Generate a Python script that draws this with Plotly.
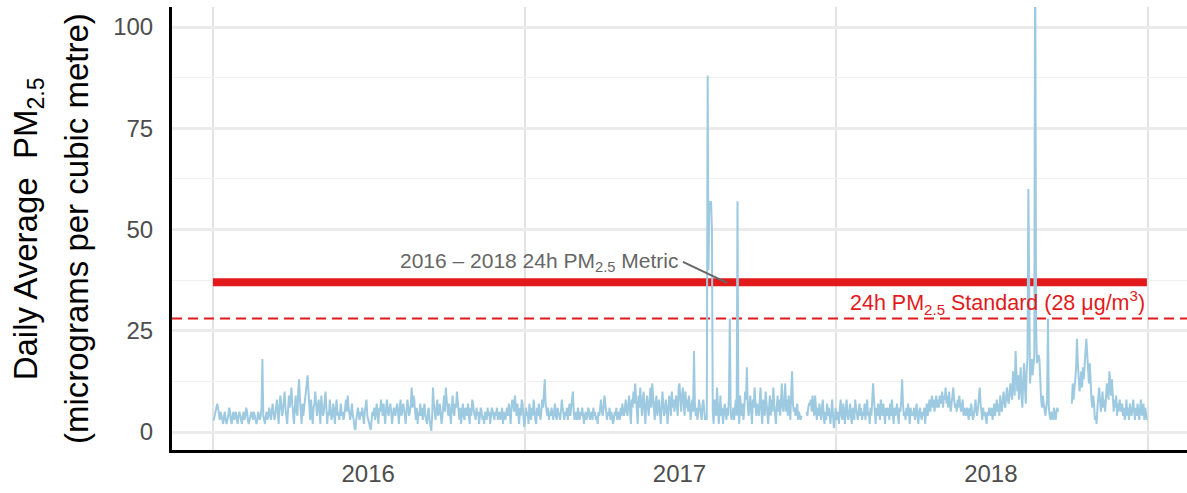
import pandas as pd
import plotly.graph_objects as go

# daily average PM2.5 (micrograms per cubic metre), one list per month, None = no reading
pm25_2016 = [
    [3, 3, 4, 5, 6, 7, 6, 4, 3, 5, 4, 3, 2, 4, 5, 3, 2, 3, 4, 6, 5, 3, 2, 4, 5, 3, 4, 5, 3, 2, 4],
    [5, 4, 3, 2, 4, 5, 3, 4, 6, 5, 3, 2, 3, 4, 5, 4, 3, 5, 4, 3, 2, 3, 5, 4, 3, 4, 6, 18, 4],
    [3, 2, 4, 5, 3, 4, 6, 4, 3, 5, 7, 5, 3, 4, 6, 8, 5, 2, 6, 9, 7, 4, 5, 8, 10, 6, 4, 2, 5, 9, 6],
    [8, 11, 7, 4, 2, 6, 9, 5, 4, 10, 13, 8, 5, 2, 7, 4, 6, 8, 9, 12, 14, 10, 6, 3, 8, 5, 2, 6, 7, 10],
    [7, 4, 6, 8, 5, 2, 9, 6, 4, 5, 7, 10, 6, 2, 5, 4, 8, 6, 3, 4, 7, 5, 2, 6, 8, 4, 5, 3, 6, 7, 4],
    [5, 3, 4, 6, 8, 5, 9, 6, 4, 3, 5, 7, 4, 3, 1, 0.5, 3, 5, 6, 4, 3, 5, 4, 6, 3, 2, 5, 7, 8, 4],
    [3, 2, 1, 0.5, 3, 5, 4, 6, 3, 5, 7, 4, 2, 6, 5, 8, 6, 4, 7, 5, 2, 6, 8, 5, 4, 6, 7, 5, 2, 4, 6],
    [5, 4, 6, 7, 5, 2, 6, 8, 4, 5, 7, 6, 4, 2, 5, 8, 6, 4, 5, 7, 11, 6, 9, 8, 5, 3, 6, 2, 5, 4, 7],
    [4, 6, 3, 5, 7, 4, 3, 2, 5, 6, 3, 2, 0.3, 4, 11, 7, 5, 3, 6, 8, 4, 5, 7, 3, 2, 4, 6, 9, 5, 11],
    [8, 6, 4, 7, 5, 2, 6, 9, 5, 4, 7, 6, 10, 8, 5, 3, 6, 2, 5, 7, 4, 3, 6, 5, 4, 7, 5, 2, 6, 4, 8],
    [7, 5, 4, 3, 6, 4, 5, 2, 4, 6, 5, 3, 4, 2, 5, 4, 3, 6, 4, 5, 2, 4, 6, 5, 4, 3, 5, 4, 6, 3],
    [4, 5, 3, 4, 6, 2, 5, 4, 3, 5, 6, 4, 7, 5, 2, 6, 8, 7, 5, 9, 6, 4, 7, 5, 2, 6, 4, 8, 7, 4, 1.2],
]
pm25_2017 = [
    [3, 6, 4, 5, 2, 7, 5, 3, 6, 4, 8, 5, 3, 2, 6, 4, 7, 5, 3, 5, 8, 6, 9, 13, 7, 5, 4, 6, 3, 5, 4],
    [6, 4, 3, 5, 7, 4, 3, 6, 5, 4, 3, 5, 8, 6, 4, 3, 5, 4, 6, 3, 5, 7, 4, 6, 8, 10, 5, 3],
    [4, 5, 3, 6, 4, 3, 5, 4, 6, 3, 2, 4, 5, 3, 4, 6, 5, 3, 4, 5, 3, 6, 4, 5, 3, 4, 2, 5, 4, 6, 8],
    [5, 4, 6, 9, 7, 4, 3, 5, 4, 6, 3, 5, 4, 2, 3, 5, 4, 6, 3, 4, 5, 3, 6, 4, 7, 5, 4, 6, 8, 5],
    [4, 7, 9, 5, 2, 8, 6, 10, 7, 12, 8, 5, 2, 9, 6, 11, 7, 4, 8, 10, 5, 2, 7, 9, 6, 4, 8, 11, 6, 12, 9],
    [5, 3, 7, 9, 4, 6, 8, 5, 2, 6, 10, 7, 4, 5, 8, 6, 2, 5, 9, 7, 4, 10, 6, 8, 5, 7, 9, 6, 4, 11],
    [12, 8, 5, 9, 11, 7, 4, 10, 6, 8, 5, 9, 7, 3, 6, 8, 5, 20, 7, 4, 6, 3, 5, 8, 6, 4, 3, 7, 8, 5, 3],
    [4, 3, 88, 40, 57, 55, 57, 50, 5, 2, 8, 6, 4, 11, 7, 2, 5, 9, 4, 6, 2, 4, 7, 5, 3, 6, 4, 9, 28, 5, 3],
    [4, 6, 3, 5, 8, 4, 57, 6, 2, 9, 5, 4, 7, 3, 6, 10, 8, 16, 7, 4, 6, 9, 5, 2, 8, 6, 11, 5, 4, 7],
    [6, 4, 9, 11, 5, 2, 8, 6, 4, 10, 7, 5, 2, 6, 9, 4, 8, 5, 11, 7, 4, 2, 6, 9, 5, 8, 4, 10, 12, 6, 5],
    [8, 12, 5, 8, 4, 9, 6, 3, 10, 15, 7, 5, 6, 4, 5, 7, 3, 5, 4, 3, 4, None, None, None, 0.5, None, 5, 4, 6, 7],
    [7, 8, 5, 9, 6, 4, 9, 5, 3, 6, 4, 7, 5, 3, 6, 8, 4, 2, 5, 3, 7, 4, 6, 3, 2, 5, 8, 4, 1, 3, 6],
]
pm25_2018 = [
    [3, 5, 4, 2, 6, 8, 4, 3, 7, 5, 2, 6, 8, 4, 3, 5, 7, 4, 2, 6, 5, 3, 8, 6, 4, 3, 5, 7, 4, 6, 3],
    [5, 4, 7, 3, 6, 8, 4, 5, 2, 6, 4, 7, 12, 8, 5, 2, 6, 4, 7, 5, 3, 8, 6, 4, 7, 5, 2, 6],
    [4, 6, 5, 3, 7, 4, 8, 5, 2, 6, 4, 5, 7, 4, 2, 6, 5, 8, 13, 7, 4, 5, 3, 6, 4, 7, 5, 2, 6, 4, 5],
    [4, 6, 3, 5, 7, 4, 2, 5, 6, 4, 3, 5, 4, 6, 2, 5, 7, 4, 6, 8, 5, 7, 9, 6, 8, 5, 7, 9, 6, 8],
    [6, 9, 7, 8, 10, 6, 9, 8, 11, 7, 9, 6, 10, 8, 5, 7, 9, 11, 8, 6, 7, 5, 8, 6, 9, 7, 5, 6, 8, 4, 6],
    [5, 4, 6, 5, 3, 6, 4, 7, 5, 3, 4, 6, 8, 5, 4, 6, 9, 11, 7, 5, 3, 6, 4, 5, 3, 2, 5, 4, 6, 5],
    [4, 6, 3, 5, 7, 4, 6, 8, 5, 7, 4, 9, 6, 5, 8, 10, 7, 6, 9, 11, 8, 7, 10, 12, 9, 8, 15, 11, 9, 20, 13],
    [10, 14, 8, 12, 16, 9, 6, 13, 17, 11, 7, 15, 18, 60, 20, 12, 16, 18, 14, 17, 19, 130, 28, 17, 18, 19, 18, 12, 8, 6, 9],
    [7, 5, 4, 6, 8, 28, 6, 4, 3, 5, 4, 3, 6, 4, 3, 5, 6, 5,
     None, None, None, None, None, None, None, None, None, None, None, None],
    [None, None, None, 7, 12, 8, 10, 13, 16, 23, 17, 14, 10, 12, 15, 11, 16, 13, 18, 20, 23, 19, 14, 12, 17, 10, 8, 6, 9, 7, 3],
    [4, 2, 6, 9, 11, 8, 5, 7, 10, 6, 8, 5, 9, 12, 10, 8, 15, 11, 9, 13, 7, 5, 8, 6, 9, 4, 7, 5, 8, 6],
    [5, 7, 4, 6, 3, 5, 8, 4, 6, 3, 7, 5, 4, 6, 8, 5, 3, 6, 4, 7, 5, 3, 6, 8, 4, 5, 7, 3, 6, 4, 3],
]

metric_2016_2018 = 37.0   # 2016-2018 24h PM2.5 metric
standard_24h = 28         # 24h PM2.5 standard
year_labels = ["2016", "2017", "2018"]
year_mid = ["2016-07-01", "2017-07-01", "2018-07-01"]
year_starts = ["2016-01-01", "2017-01-01", "2018-01-01", "2019-01-01"]

RED = "#e31a1c"
BLUE = "#9ecae1"
FONT = "Liberation Sans, Arial, sans-serif"


def year_frame(year, months):
    parts = []
    for m, vals in enumerate(months, start=1):
        days = pd.date_range(f"{year}-{m:02d}-01", periods=len(vals), freq="D")
        parts.append(pd.DataFrame({"date": days, "pm25": vals}))
    return pd.concat(parts)


df = pd.concat([year_frame(2016, pm25_2016),
                year_frame(2017, pm25_2017),
                year_frame(2018, pm25_2018)], ignore_index=True)
df["pm25"] = df["pm25"].astype(float)

x_range = ["2015-11-14", "2019-02-16"]
y_range = [-4.44, 104.94]

fig = go.Figure()
# standard, dashed across whole panel
fig.add_trace(go.Scatter(x=x_range, y=[standard_24h, standard_24h], mode="lines",
                         line=dict(color=RED, width=2, dash="10px,6px"), hoverinfo="skip"))
# three year metric
fig.add_trace(go.Scatter(x=[df["date"].min(), df["date"].max()], y=[metric_2016_2018] * 2,
                         mode="lines", line=dict(color=RED, width=8), hoverinfo="skip"))
fig.add_trace(go.Scatter(x=df["date"], y=df["pm25"], mode="lines", connectgaps=False,
                         line=dict(color=BLUE, width=2)))

# label for the metric + leader line
fig.add_shape(type="line", x0="2017-07-05", y0=42, x1="2017-08-26", y1=36.8,
              line=dict(color="#666666", width=2))
fig.add_annotation(x="2017-07-01", y=42, text="2016 \u2013 2018 24h PM<sub>2.5</sub> Metric",
                   xanchor="right", yanchor="middle", showarrow=False,
                   font=dict(size=21, color="#666666", family=FONT))
fig.add_annotation(x="2018-12-31", y=32,
                   text="24h PM<sub>2.5</sub> Standard (28 \u03bcg/m<sup>3</sup>)",
                   xanchor="right", yanchor="middle", showarrow=False,
                   font=dict(size=21.5, color=RED, family=FONT))

# two line y title
fig.add_annotation(xref="paper", yref="paper", x=-0.142, y=0.5, textangle=-90,
                   text="Daily Average\u00a0 PM<sub>2.5</sub>", showarrow=False,
                   xanchor="center", yanchor="middle", font=dict(size=33, color="black", family=FONT))
fig.add_annotation(xref="paper", yref="paper", x=-0.094, y=0.5, textangle=-90,
                   text="(micrograms per cubic metre)", showarrow=False,
                   xanchor="center", yanchor="middle", font=dict(size=33, color="black", family=FONT))

fig.update_layout(
    width=1187, height=493,
    margin=dict(l=172, r=0, t=7, b=43),
    paper_bgcolor="white", plot_bgcolor="white",
    showlegend=False,
    font=dict(family=FONT),
)
fig.update_xaxes(
    range=x_range, tickmode="array", tickvals=year_mid, ticktext=year_labels,
    showgrid=False, zeroline=False, ticks="",
    showline=True, linecolor="black", linewidth=3,
    tickfont=dict(size=24, color="#4d4d4d"), ticklabelstandoff=0,
    minor=dict(tickmode="array", tickvals=year_starts, showgrid=True,
               gridcolor="#e3e3e3", gridwidth=1.5),
)
fig.update_yaxes(
    range=y_range, tickmode="array", tickvals=[0, 25, 50, 75, 100],
    showgrid=True, gridcolor="#ebebeb", gridwidth=2.5, zeroline=False, ticks="",
    showline=True, linecolor="black", linewidth=3,
    tickfont=dict(size=24, color="#4d4d4d"), ticklabelstandoff=11,
    minor=dict(tickmode="array", tickvals=[12.5, 37.5, 62.5, 87.5], showgrid=True,
               gridcolor="#f0f0f0", gridwidth=1.3),
)

# page body has a default 8px margin; drop it so the figure sits at the window corner
fig.write_html("out.html", config={"displayModeBar": False},
               post_script="document.body.style.margin='0';")
